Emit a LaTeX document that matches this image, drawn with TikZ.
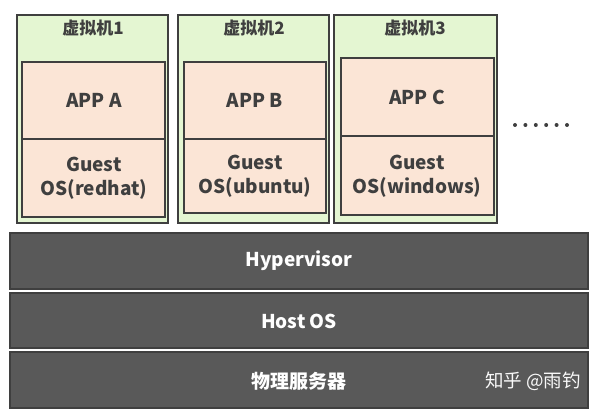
\documentclass[tikz,border=0pt]{standalone}
\usepackage{fontspec}
\setmainfont{Noto Sans CJK SC}
\definecolor{vmgreen}{HTML}{E4F6D2}
\definecolor{appbeige}{HTML}{FBE5D6}
\definecolor{layergray}{HTML}{595959}
\definecolor{edgegray}{HTML}{3F3F3F}
\tikzset{
  vmbox/.style={draw=edgegray, line width=1.8pt, fill=vmgreen},
  appbox/.style={draw=edgegray, line width=1.8pt, fill=appbeige},
  layerbox/.style={draw=edgegray, line width=1.4pt, fill=layergray},
  vmtitle/.style={text=edgegray, font=\bfseries\fontsize{17}{19}\selectfont},
  apptext/.style={text=edgegray, font=\bfseries\fontsize{19}{24}\selectfont, align=center},
  layertext/.style={text=white, font=\bfseries\fontsize{19}{22}\selectfont}
}
\begin{document}
\begin{tikzpicture}[x=1pt,y=-1pt]
        \useasboundingbox (0,0) rectangle (598,420);
        %虚拟机
        \draw[vmbox] (17,15) rectangle (168,223);
        \draw[appbox] (22,62) rectangle (165,139);
        \draw[appbox] (22,139) rectangle (165,217);
        \node[vmtitle] (vm1) at (93,28) {虚拟机1};
        \node[apptext] (appa) at (94,100) {APP A};
        \node[apptext] (gosa) at (94,178) {Guest\\OS(redhat)};
        \draw[vmbox] (178,15) rectangle (329,223);
        \draw[appbox] (184,62) rectangle (326,139);
        \draw[appbox] (184,139) rectangle (326,213);
        \node[vmtitle] (vm2) at (254,28) {虚拟机2};
        \node[apptext] (appb) at (255,100) {APP B};
        \node[apptext] (gosb) at (255,176) {Guest\\OS(ubuntu)};
        \draw[vmbox] (334,15) rectangle (497,223);
        \draw[appbox] (341,58) rectangle (494,136);
        \draw[appbox] (341,136) rectangle (494,215);
        \node[vmtitle] (vm3) at (415,28) {虚拟机3};
        \node[apptext] (appc) at (417,97) {APP C};
        \node[apptext] (gosc) at (417,176) {Guest\\OS(windows)};
        %altri
        \foreach \i in {0,...,5}
          \fill[edgegray] (515+10.4*\i,125) circle (2);
        %livelli
        \draw[layerbox] (10,233) rectangle (588,289);
        \draw[layerbox] (10,293) rectangle (588,348);
        \draw[layerbox] (10,352) rectangle (588,408);
        \node[layertext] (hyp) at (299,261) {Hypervisor};
        \node[layertext] (host) at (299,321) {Host OS};
        \node[layertext] (hw) at (299,381) {物理服务器};
        \node[text=white!95!gray, font=\fontsize{18.5}{20}\selectfont] (wm) at (533,381) {知乎 @雨钓};
    \end{tikzpicture}
\end{document}
